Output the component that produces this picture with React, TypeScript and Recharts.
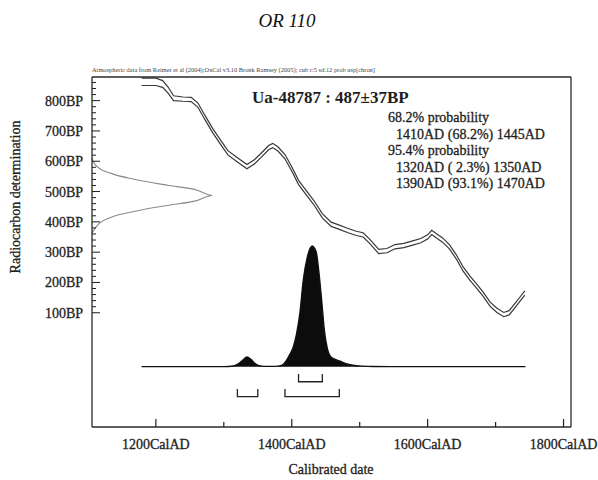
import React from "react";
import { ComposedChart, Line, Area, XAxis, YAxis } from "recharts";

// calibration curve (cal AD -> BP, with the half width of the band)
const calYears = [1179, 1200, 1210, 1218, 1226, 1240, 1252, 1262, 1272, 1284, 1296, 1306, 1318, 1334, 1345, 1356, 1366, 1372, 1380, 1390, 1400, 1410, 1420, 1432, 1445, 1458, 1470, 1482, 1495, 1505, 1515, 1528, 1540, 1552, 1565, 1578, 1590, 1600, 1606, 1614, 1622, 1632, 1642, 1652, 1662, 1672, 1682, 1692, 1702, 1712, 1720, 1728, 1736, 1743];
const calBP = [862, 862, 855, 835, 808, 805, 804, 785, 745, 700, 660, 628, 608, 582, 598, 622, 645, 652, 640, 615, 575, 530, 500, 465, 420, 392, 382, 372, 362, 357, 335, 302, 305, 318, 322, 330, 338, 350, 365, 352, 340, 318, 285, 245, 215, 188, 160, 128, 108, 94, 100, 122, 145, 165];
const calErr = [12, 12, 11, 10, 8, 7, 7, 7, 7, 7, 7, 7, 7, 7, 7, 7, 7, 7, 7, 7, 7, 7, 7, 7, 7, 7, 7, 7, 7, 7, 7, 7, 7, 7, 7, 7, 7, 7, 7, 7, 7, 7, 7, 7, 7, 7, 7, 7, 7, 7, 7, 7, 7, 7];

// radiocarbon date 487±37BP, relative density on the left
const dateBP = [612, 600, 580, 560, 540, 520, 505, 487, 470, 455, 435, 415, 395, 375, 362];
const dateDens = [0, 0.01, 0.05, 0.16, 0.36, 0.64, 0.87, 1, 0.87, 0.64, 0.36, 0.16, 0.06, 0.02, 0];

// calibrated probability distribution (relative)
const distYears = [1179, 1300, 1314, 1322, 1328, 1334, 1340, 1346, 1352, 1360, 1375, 1385, 1392, 1397, 1402, 1407, 1412, 1417, 1423, 1430, 1436, 1440, 1444, 1448, 1452, 1457, 1464, 1471, 1480, 1490, 1505, 1520, 1545, 1744];
const distProb = [0, 0, 0.005, 0.025, 0.055, 0.08, 0.06, 0.025, 0.008, 0.002, 0.002, 0.01, 0.05, 0.1, 0.16, 0.27, 0.445, 0.72, 0.91, 1, 0.95, 0.78, 0.55, 0.3, 0.16, 0.085, 0.06, 0.045, 0.025, 0.012, 0.004, 0.001, 0, 0];

// ranges
const range68 = [[1410, 1445]];
const range95 = [[1320, 1350], [1390, 1470]];
const level68 = [-0.06, -0.125];
const level95 = [-0.185, -0.248];

const yearTicks = [1200, 1300, 1400, 1500, 1600, 1700, 1800];
const bpTicks = Array.from({ length: 39 }, (_, i) => 100 + i * 20);

const title = "Ua-48787 : 487±37BP";
const probLines = [
  { text: "68.2% probability", indent: false },
  { text: "1410AD (68.2%) 1445AD", indent: true },
  { text: "95.4% probability", indent: false },
  { text: "1320AD ( 2.3%) 1350AD", indent: true },
  { text: "1390AD (93.1%) 1470AD", indent: true },
];
const header = "Atmospheric data from Reimer et al (2004);OxCal v3.10 Bronk Ramsey (2005); cub r:5 sd:12 prob usp[chron]";

const calData = calYears.map((yr, i) => ({ yr, hi: calBP[i] + calErr[i], lo: calBP[i] - calErr[i] }));
const dateData = dateBP.map((bp, i) => ({ d: dateDens[i], bp }));
const distData = distYears.map((yr, i) => ({ yr, p: distProb[i] }));
const bracket = ([a, b], [top, bot]) => [
  { yr: a, v: top }, { yr: a, v: bot }, { yr: b, v: bot }, { yr: b, v: top },
];
const brackets = [
  ...range68.map((r) => bracket(r, level68)),
  ...range95.map((r) => bracket(r, level95)),
];

const SERIF = "'Liberation Serif', 'Times New Roman', serif";
const INK = "#1e1e1e";
const FRAME = { stroke: "#2a2a2a", strokeWidth: 1.3 };
// scanned print looks a bit heavier than plain Times
const txt = { fontFamily: SERIF, fill: INK, stroke: INK, strokeWidth: 0.3 };

function YearTick({ x, y, payload }) {
  const v = payload.value;
  const major = v % 200 === 0;
  return (
    <g>
      <line x1={x} x2={x} y1={y} y2={y - (major ? 8 : 5)} stroke={INK} strokeWidth={1.2} />
      {major && (
        <text x={x} y={y + 22} textAnchor="middle" fontSize={14} {...txt}>
          {v}CalAD
        </text>
      )}
    </g>
  );
}

function BpTick({ x, y, payload }) {
  const v = payload.value;
  const major = v % 100 === 0;
  return (
    <g>
      <line x1={x} x2={x + (major ? 8 : 4)} y1={y} y2={y} stroke={INK} strokeWidth={1} />
      {major && v <= 800 && (
        <text x={x - 9} y={y + 5} textAnchor="end" fontSize={14} {...txt}>
          {v}BP
        </text>
      )}
    </g>
  );
}

export default function App() {
  return (
    <div style={{ position: "absolute", left: 0, top: 0, width: 598, height: 480, background: "#fff" }}>
      <ComposedChart width={598} height={480} margin={{ top: 76, right: 26, bottom: 23, left: 32 }}>
        <XAxis xAxisId="a_yr" type="number" dataKey="yr" domain={[1106, 1811]} allowDataOverflow
          ticks={yearTicks} interval={0} height={30} tickSize={0} tickMargin={0}
          axisLine={FRAME} tickLine={false} tick={(p) => <YearTick {...p} />} />
        <XAxis xAxisId="a_top" orientation="top" type="number" domain={[1106, 1811]} allowDataOverflow
          height={1} tick={false} tickLine={false} axisLine={FRAME} />
        <YAxis yAxisId="a_bp" type="number" domain={[-277, 878]} allowDataOverflow ticks={bpTicks} interval={0}
          width={60} tickSize={0} tickMargin={0} axisLine={FRAME} tickLine={false}
          tick={(p) => <BpTick {...p} />} />
        <YAxis yAxisId="a_right" orientation="right" type="number" domain={[-277, 878]} allowDataOverflow
          width={1} tick={false} tickLine={false} axisLine={FRAME} />
        <XAxis xAxisId="z_dens" orientation="top" type="number" dataKey="d" domain={[0, 3.98]}
          allowDataOverflow hide height={0} />
        <YAxis yAxisId="z_prob" orientation="right" type="number" domain={[-0.5, 2.4]}
          allowDataOverflow hide width={0} />

        <Area data={distData} xAxisId="a_yr" yAxisId="z_prob" dataKey="p" type="monotone" baseValue={0}
          fill="#0c0c0c" fillOpacity={1} stroke="#111" strokeWidth={1.4} isAnimationActive={false} />
        <Line data={dateData} xAxisId="z_dens" yAxisId="a_bp" dataKey="bp" type="monotone"
          stroke="#8a8a8a" strokeWidth={1.1} dot={false} isAnimationActive={false} />
        <Line data={calData} xAxisId="a_yr" yAxisId="a_bp" dataKey="hi" type="linear"
          stroke="#383838" strokeWidth={1.2} dot={false} isAnimationActive={false} />
        <Line data={calData} xAxisId="a_yr" yAxisId="a_bp" dataKey="lo" type="linear"
          stroke="#383838" strokeWidth={1.2} dot={false} isAnimationActive={false} />
        {brackets.map((b, i) => (
          <Line key={i} data={b} xAxisId="a_yr" yAxisId="z_prob" dataKey="v" type="linear"
            stroke="#222" strokeWidth={1.3} dot={false} isAnimationActive={false} />
        ))}
      </ComposedChart>

      <svg width={598} height={480} style={{ position: "absolute", left: 0, top: 0, pointerEvents: "none" }}>
        <text x={287} y={27} textAnchor="middle" fontSize={19} fontStyle="italic" fontFamily={SERIF} fill="#111">
          OR 110
        </text>
        <text x={92} y={72} fontSize={6.4} fontFamily={SERIF} fill="#444">{header}</text>
        <text x={252} y={103} fontSize={17} fontWeight="bold" fontFamily={SERIF} fill={INK}>{title}</text>
        {probLines.map((l, i) => (
          <text key={i} x={l.indent ? 396 : 388} y={122 + i * 16.5} fontSize={14} {...txt}>
            {l.text}
          </text>
        ))}
        <text x={331} y={474} textAnchor="middle" fontSize={14} {...txt}>Calibrated date</text>
        <text x={20} y={197} textAnchor="middle" fontSize={14} {...txt}
          transform="rotate(-90 20 197)">Radiocarbon determination</text>
      </svg>
    </div>
  );
}
